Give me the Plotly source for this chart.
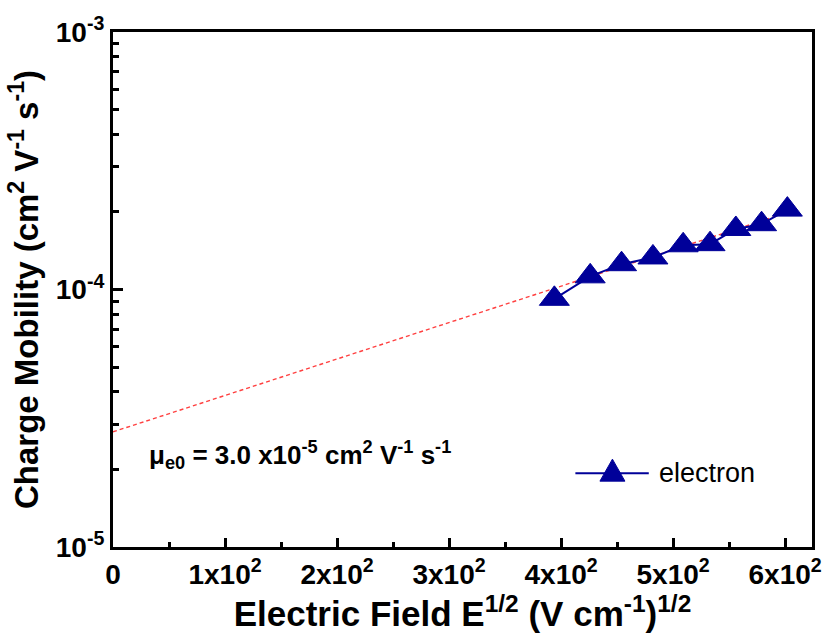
import plotly.graph_objects as go

# Data
field = [394, 426, 454, 482, 509, 533, 556, 579, 602]          # E^1/2 (V/cm)^1/2
mobility = [9.2e-5, 1.125e-4, 1.254e-4, 1.332e-4, 1.485e-4, 1.50e-4, 1.718e-4, 1.793e-4, 2.043e-4]
fit_x = [0, 602]
fit_y = [2.8e-5, 1.99e-4]

x_tickvals = [0, 100, 200, 300, 400, 500, 600]
x_ticktext = ["0", "1x10<sup>2</sup>", "2x10<sup>2</sup>", "3x10<sup>2</sup>",
              "4x10<sup>2</sup>", "5x10<sup>2</sup>", "6x10<sup>2</sup>"]
x_minor = [50, 150, 250, 350, 450, 550]
y_tickvals = [1e-5, 1e-4, 1e-3]
y_ticktext = ["10<sup>-5</sup>", "10<sup>-4</sup>", "10<sup>-3</sup>"]
y_minor = [k * 10.0 ** e for e in (-5, -4) for k in range(2, 10)]

series_name = "electron"
FONT = "Arial, Liberation Sans"
BLUE = "#000099"

fig = go.Figure()
fig.add_trace(go.Scatter(
    x=fit_x, y=fit_y, mode="lines",
    line=dict(color="#ff4040", width=1.4, dash="4px,3px"),
    showlegend=False, hoverinfo="skip"))
fig.add_trace(go.Scatter(
    x=field, y=mobility, mode="lines+markers", name=series_name,
    line=dict(color=BLUE, width=2),
    marker=dict(symbol="triangle-up", size=26, color=BLUE,
                line=dict(color=BLUE, width=1)),
    showlegend=False))

# legend (drawn to match the long sample line of the reference)
leg_y = 0.1434
fig.add_shape(type="line", xref="paper", yref="paper", x0=0.6615, x1=0.7665, y0=leg_y, y1=leg_y,
              line=dict(color=BLUE, width=2))
fig.add_shape(type="path", xref="paper", yref="paper", xsizemode="pixel", ysizemode="pixel",
              xanchor=0.7145, yanchor=leg_y, path="M-12.5,-8 L12.5,-8 L0,14 Z",
              fillcolor=BLUE, line=dict(color=BLUE, width=1))

fig.update_layout(
    width=834, height=643,
    margin=dict(l=113, r=15, t=31, b=96),
    plot_bgcolor="white", paper_bgcolor="white",
    font=dict(family=FONT, color="black"),
    showlegend=False,
    annotations=[
        dict(xref="paper", yref="paper", x=0.049, y=0.179, xanchor="left", yanchor="middle",
             text="μ<sub>e0</sub> = 3.0 x10<sup>-5</sup> cm<sup>2</sup> V<sup>-1</sup> s<sup>-1</sup>",
             showarrow=False, font=dict(family=FONT, size=26, color="black", weight="bold")),
        dict(xref="paper", yref="paper", x=0.778, y=leg_y, xanchor="left", yanchor="middle",
             text=series_name, showarrow=False,
             font=dict(family=FONT, size=27, color="black")),
    ],
)

fig.update_xaxes(
    range=[0, 624], tickvals=x_tickvals, ticktext=x_ticktext,
    ticks="inside", ticklen=9, tickwidth=2.5, tickcolor="black",
    minor=dict(tickvals=x_minor, ticks="inside", ticklen=5, tickwidth=2.5, tickcolor="black"),
    showline=True, linewidth=3, linecolor="black", mirror=True,
    showgrid=False, zeroline=False,
    tickfont=dict(family=FONT, size=28, color="black", weight="bold"),
    title=dict(text="Electric Field E<sup>1/2</sup> (V cm<sup>-1</sup>)<sup>1/2</sup>",
               font=dict(family=FONT, size=35, color="black", weight="bold"), standoff=6),
)
fig.update_yaxes(
    type="log", range=[-5, -3], tickvals=y_tickvals, ticktext=y_ticktext,
    ticks="inside", ticklen=10, tickwidth=2.5, tickcolor="black",
    minor=dict(tickvals=y_minor, ticks="inside", ticklen=6, tickwidth=2.5, tickcolor="black"),
    showline=True, linewidth=3, linecolor="black", mirror=True,
    showgrid=False, zeroline=False,
    tickfont=dict(family=FONT, size=28, color="black", weight="bold"),
    title=dict(text="Charge Mobility (cm<sup>2</sup> V<sup>-1</sup> s<sup>-1</sup>)",
               font=dict(family=FONT, size=33, color="black", weight="bold"), standoff=8),
)

fig.write_html("out.html")
